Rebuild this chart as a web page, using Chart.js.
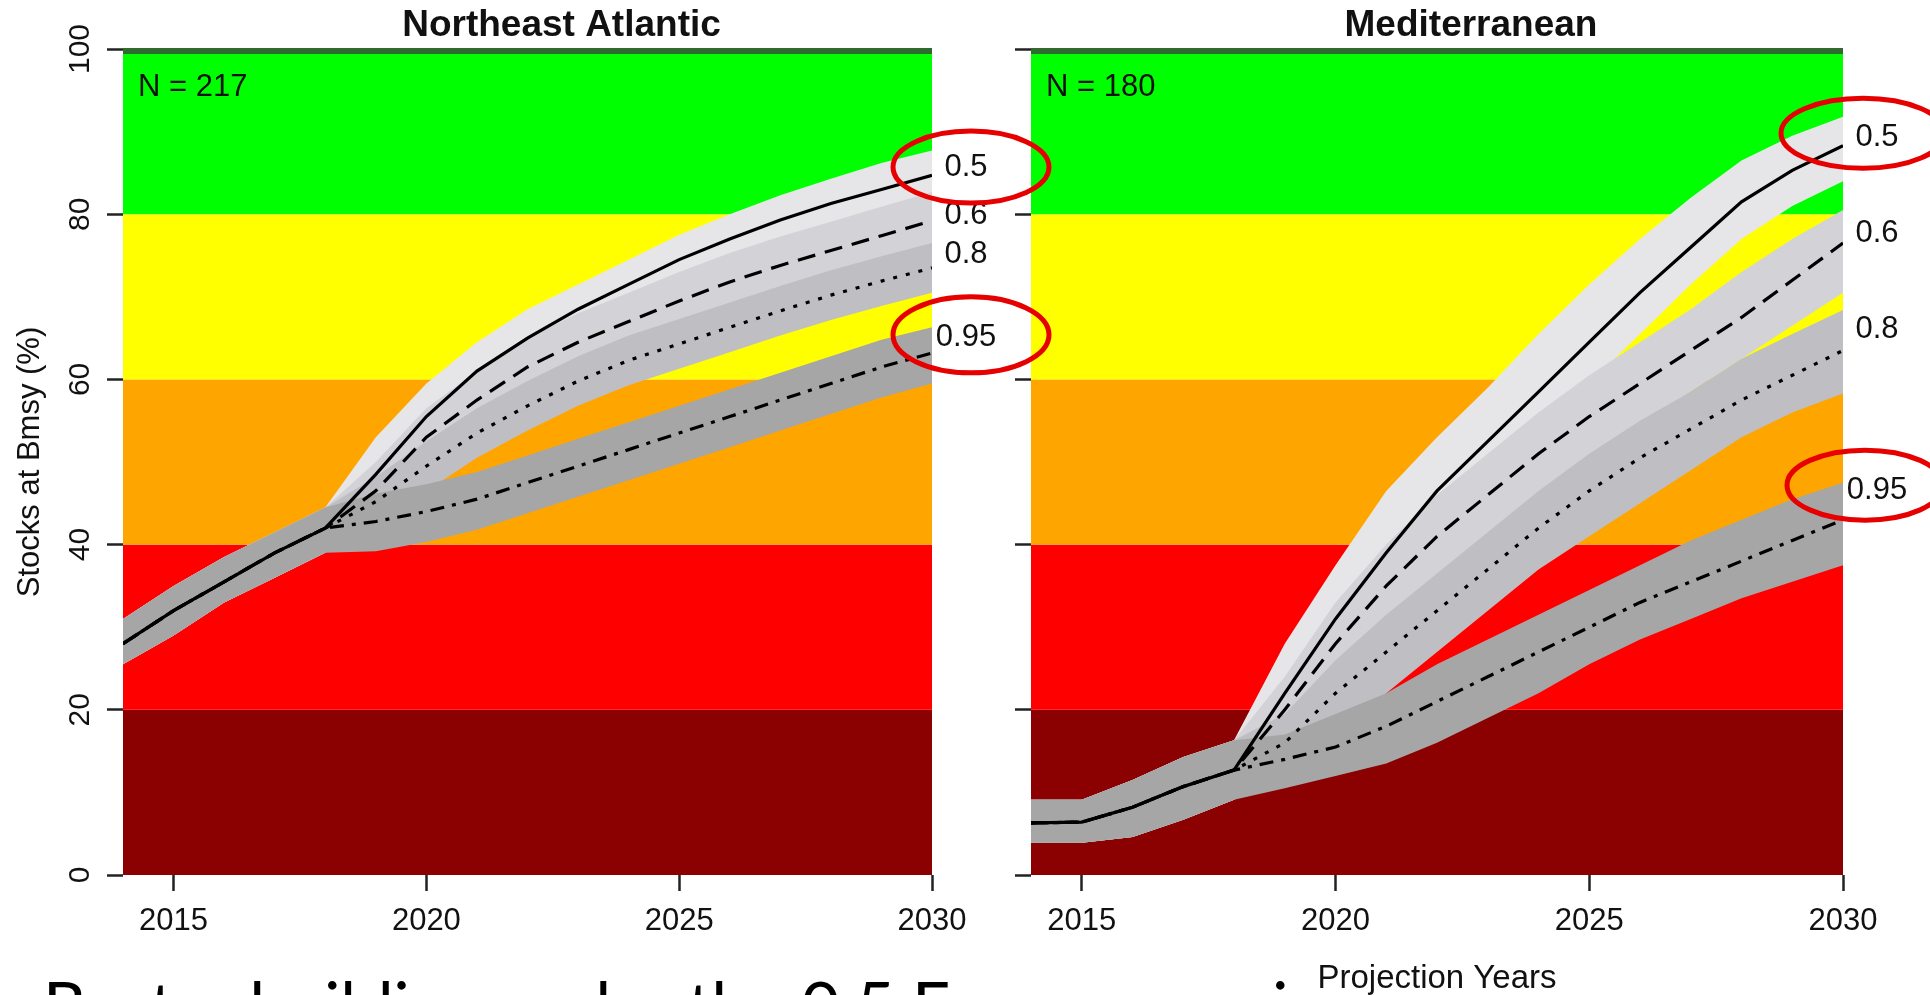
<!DOCTYPE html>
<html>
<head>
<meta charset="utf-8">
<title>Stocks at Bmsy projections</title>
<script src="https://cdn.jsdelivr.net/npm/chart.js@4.4.1/dist/chart.umd.min.js"></script>
<style>
  html, body { margin: 0; padding: 0; background: #fff; overflow: hidden; }
  #wrap { position: relative; width: 1930px; height: 995px; }
  #wrap canvas { position: absolute; top: 0; }
  #medChart { left: 960px; z-index: 1; }
  #neaChart { left: 0; z-index: 2; }
  #caption { left: 0; z-index: 3; pointer-events: none; }
</style>
</head>
<body>
<div id="wrap">
  <canvas id="medChart" width="970" height="995" style="width:970px;height:995px"></canvas>
  <canvas id="neaChart" width="1060" height="995" style="width:1060px;height:995px"></canvas>
  <canvas id="caption" width="1930" height="995"></canvas>
</div>
<script>
// Projection years and axis ticks
const years = [2014, 2015, 2016, 2017, 2018, 2019, 2020, 2021, 2022,
               2023, 2024, 2025, 2026, 2027, 2028, 2029, 2030];
const xTickValues = [2015, 2020, 2025, 2030];
const yTickValues = [0, 20, 40, 60, 80, 100];
const scenarios = ['0.5', '0.6', '0.8', '0.95'];

// Status zones behind the curves (% of stocks at Bmsy)
const zoneLimits = [0, 20, 40, 60, 80, 100];

// Northeast Atlantic, median projection per scenario
const neaStocks = 217;
const neaMid05  = [28, 32, 35.5, 39, 42, 48.5, 55.5, 61, 65, 68.5, 71.5, 74.5, 77, 79.3, 81.3, 83, 84.7];
const neaMid06  = [28, 32, 35.5, 39, 42, 46.5, 53, 57.5, 61.5, 64.5, 67, 69.5, 71.8, 73.8, 75.6, 77.4, 79.2];
const neaMid08  = [28, 32, 35.5, 39, 42, 45.2, 49.5, 53.5, 56.8, 59.8, 62.3, 64.3, 66.3, 68.3, 70.2, 71.9, 73.5];
const neaMid095 = [28, 32, 35.5, 39, 42, 42.8, 44, 45.5, 47.5, 49.5, 51.5, 53.5, 55.5, 57.5, 59.5, 61.5, 63.2];
// Northeast Atlantic, uncertainty bands
const neaHi05  = [31, 35, 38.5, 41.5, 44.5, 53, 59.5, 64.5, 68.5, 71.5, 74.5, 77.5, 80, 82.3, 84.3, 86.2, 87.7];
const neaLo05  = [25.5, 29, 33, 36, 39, 45, 52, 57.5, 61.5, 65, 68, 71, 73.5, 75.8, 77.8, 79.5, 81.2];
const neaHi06  = [31, 35, 38.5, 41.5, 44.5, 50, 56.5, 61, 65, 68, 70.5, 73, 75.3, 77.3, 79.1, 80.9, 82.7];
const neaLo06  = [25.5, 29, 33, 36, 39, 43, 49.5, 54, 58, 61, 63.5, 66, 68.3, 70.3, 72.1, 73.9, 75.7];
const neaHi08  = [31, 35, 38.5, 41.5, 44.5, 48.2, 52.5, 56.5, 59.8, 62.8, 65.3, 67.3, 69.3, 71.3, 73.2, 74.9, 76.5];
const neaLo08  = [25.5, 29, 33, 36, 39, 42.2, 46.5, 50.5, 53.8, 56.8, 59.3, 61.3, 63.3, 65.3, 67.2, 68.9, 70.5];
const neaHi095 = [31, 35, 38.5, 41.5, 44.5, 46.2, 47.3, 48.8, 50.8, 52.8, 54.8, 56.8, 58.8, 60.8, 62.8, 64.8, 66.3];
const neaLo095 = [25.5, 29, 33, 36, 39, 39.2, 40.3, 41.8, 43.8, 45.8, 47.8, 49.8, 51.8, 53.8, 55.8, 57.8, 59.5];

// Mediterranean, median projection per scenario
const medStocks = 180;
const medMid05  = [6.3, 6.4, 8.2, 10.7, 12.7, 22, 31, 39, 46.5, 52.5, 58.5, 64.5, 70.5, 76, 81.5, 85.3, 88.3];
const medMid06  = [6.3, 6.4, 8.2, 10.7, 12.7, 20, 28, 35, 41, 46, 51, 55.5, 59.5, 63.5, 67.5, 72, 76.5];
const medMid08  = [6.3, 6.4, 8.2, 10.7, 12.7, 16, 22, 27, 32, 37, 42, 46.5, 50.5, 54, 57.5, 60.5, 63.5];
const medMid095 = [6.3, 6.4, 8.2, 10.7, 12.7, 14, 15.5, 18, 21, 24, 27, 30, 33, 35.5, 38, 40.5, 43];
// Mediterranean, uncertainty bands
const medHi05  = [9.1, 9.1, 11.5, 14.3, 16.3, 28, 37.5, 46.5, 53, 59, 65.5, 71.5, 77, 82, 86.5, 89.5, 91.8];
const medLo05  = [3.9, 3.9, 4.6, 6.7, 9.1, 17, 26, 33, 40, 47, 53.5, 59.5, 65.5, 71.5, 77, 81, 84];
const medHi06  = [9.1, 9.1, 11.5, 14.3, 16.3, 24, 33, 40, 46, 51, 56, 60.5, 64.5, 68.5, 73, 77, 80.5];
const medLo06  = [3.9, 3.9, 4.6, 6.7, 9.1, 16, 23, 30, 36, 41, 46, 50.5, 54.5, 58.5, 62.5, 66.5, 70.5];
const medHi08  = [9.1, 9.1, 11.5, 14.3, 16.3, 19.5, 26, 31.5, 36.5, 41.5, 46.5, 51, 55, 58.5, 62.5, 65.5, 68.4];
const medLo08  = [3.9, 3.9, 4.6, 6.7, 9.1, 12.5, 17, 22, 27, 32, 37, 41, 45, 49, 53, 56, 58.3];
const medHi095 = [9.1, 9.1, 11.5, 14.3, 16.3, 17, 19.5, 22, 25.5, 28.5, 31.5, 34.5, 37.5, 40.5, 43, 45.5, 47.5];
const medLo095 = [3.9, 3.9, 4.6, 6.7, 9.1, 10.5, 12, 13.5, 16, 19, 22, 25.5, 28.5, 31, 33.5, 35.5, 37.5];

const captionText = 'Best rebuilding under the 0.5 Fmsy scenario';

// Styles
const FONT = "'Liberation Sans', Arial, sans-serif";
const zoneColors = ['#8b0000', '#ff0000', '#ffa500', '#ffff00', '#00ff00'];
const bandColors = ['#e6e6e9', '#d3d3d7', '#bfbfc3', '#a6a6a6'];
const lineDashes = [[], [18, 10], [4, 9], [14, 8, 4, 8]];

Chart.defaults.font.family = FONT;

// Coloured status zones plus the dark top edge
const zonePlugin = {
    id: 'zones',
    beforeDatasetsDraw(chart) {
        const {ctx, chartArea: a, scales: {y}} = chart;
        ctx.save();
        for (let i = 0; i < zoneColors.length; i++) {
            const top = y.getPixelForValue(zoneLimits[i + 1]);
            const bottom = y.getPixelForValue(zoneLimits[i]);
            ctx.fillStyle = zoneColors[i];
            ctx.fillRect(a.left, top, a.right - a.left, bottom - top);
        }
        ctx.fillStyle = '#2f6b2f';
        ctx.fillRect(a.left, y.getPixelForValue(100) - 1, a.right - a.left, 6);
        ctx.restore();
    }
};

// Panel title, stock count, scenario labels and red rings
function makeTextPlugin(p) {
    return {
        id: 'panelText',
        afterDraw(chart) {
            const {ctx, chartArea: a, scales: {y}} = chart;
            ctx.save();
            ctx.fillStyle = '#111';
            ctx.textBaseline = 'middle';
            ctx.textAlign = 'center';
            ctx.font = 'bold 37px ' + FONT;
            ctx.fillText(p.title, (a.left + a.right) / 2 + 34, 26);

            ctx.font = '31px ' + FONT;
            ctx.textAlign = 'left';
            ctx.fillText('N = ' + p.stocks, a.left + 15, y.getPixelForValue(95.3));

            ctx.textAlign = 'center';
            scenarios.forEach((s, i) => {
                ctx.fillText(s, a.right + 34, y.getPixelForValue(p.labelY[i]));
            });

            ctx.strokeStyle = '#e60000';
            ctx.lineWidth = 5;
            p.rings.forEach(r => {
                ctx.beginPath();
                ctx.ellipse(a.right + r.dx, y.getPixelForValue(r.y), r.rx, r.ry, 0, 0, Math.PI * 2);
                ctx.stroke();
            });
            ctx.restore();
        }
    };
}

function toPoints(values) {
    return values.map((v, i) => ({x: years[i], y: v}));
}

function makeChart(canvasId, p) {
    const datasets = [];
    const bandOrder = [5, 4, 3, 2];
    p.bands.forEach((b, i) => {
        const upperIndex = datasets.length;
        datasets.push({
            label: scenarios[i] + ' upper', data: toPoints(b[0]),
            fill: upperIndex + 1, backgroundColor: bandColors[i],
            borderColor: 'rgba(0,0,0,0)', borderWidth: 0, pointRadius: 0, order: bandOrder[i]
        });
        datasets.push({
            label: scenarios[i] + ' lower', data: toPoints(b[1]),
            fill: false, borderColor: 'rgba(0,0,0,0)', borderWidth: 0, pointRadius: 0, order: bandOrder[i]
        });
    });
    p.medians.forEach((m, i) => {
        datasets.push({
            label: scenarios[i], data: toPoints(m), fill: false,
            borderColor: '#000', borderWidth: 3.2, borderDash: lineDashes[i],
            pointRadius: 0, order: 1
        });
    });

    const gridOpts = {
        display: true, drawOnChartArea: false, drawTicks: true,
        tickLength: 16, tickColor: '#222', tickWidth: 2.5
    };

    return new Chart(document.getElementById(canvasId), {
        type: 'line',
        data: {datasets},
        plugins: [zonePlugin, makeTextPlugin(p)],
        options: {
            responsive: false,
            animation: false,
            events: [],
            layout: {padding: {top: 49, right: p.padRight, left: 0, bottom: 0}},
            plugins: {legend: {display: false}, tooltip: {enabled: false}, title: {display: false}},
            elements: {line: {tension: 0}},
            scales: {
                x: {
                    type: 'linear', min: 2014, max: 2030,
                    afterBuildTicks: s => { s.ticks = xTickValues.map(v => ({value: v})); },
                    afterFit: s => { s.height = 120; },
                    grid: gridOpts,
                    border: {display: false},
                    ticks: {
                        font: {size: 31}, color: '#111', padding: 12,
                        autoSkip: false, maxRotation: 0, callback: v => String(v)
                    },
                    title: {
                        display: p.showXTitle, text: 'Projection Years',
                        font: {size: 33, lineHeight: 1}, color: '#111', padding: 0
                    }
                },
                y: {
                    type: 'linear', min: 0, max: 100,
                    afterBuildTicks: s => { s.ticks = yTickValues.map(v => ({value: v})); },
                    afterFit: s => { s.width = p.yAxisWidth; },
                    grid: gridOpts,
                    border: {display: false},
                    ticks: {
                        display: p.showYLabels, minRotation: 90, maxRotation: 90,
                        crossAlign: 'center', padding: 1, autoSkip: false,
                        font: {size: 30}, color: '#111'
                    },
                    title: {
                        display: p.showYLabels, text: 'Stocks at Bmsy (%)',
                        font: {size: 31}, color: '#111', padding: {top: 12}
                    }
                }
            }
        }
    });
}

makeChart('neaChart', {
    title: 'Northeast Atlantic', stocks: neaStocks,
    medians: [neaMid05, neaMid06, neaMid08, neaMid095],
    bands: [[neaHi05, neaLo05], [neaHi06, neaLo06], [neaHi08, neaLo08], [neaHi095, neaLo095]],
    labelY: [85.7, 79.9, 75.1, 65.1],
    rings: [{dx: 39, y: 85.7, rx: 78, ry: 36}, {dx: 39, y: 65.4, rx: 78, ry: 38}],
    yAxisWidth: 123, padRight: 128, showYLabels: true, showXTitle: false
});

makeChart('medChart', {
    title: 'Mediterranean', stocks: medStocks,
    medians: [medMid05, medMid06, medMid08, medMid095],
    bands: [[medHi05, medLo05], [medHi06, medLo06], [medHi08, medLo08], [medHi095, medLo095]],
    labelY: [89.3, 77.7, 66, 46.6],
    rings: [{dx: 20, y: 89.8, rx: 82, ry: 35}, {dx: 22, y: 47.2, rx: 78, ry: 35}],
    yAxisWidth: 71, padRight: 87, showYLabels: false, showXTitle: true
});

// Slide caption cut off by the bottom edge
function drawCaption() {
    const ctx = document.getElementById('caption').getContext('2d');
    const fam = "Lato, 'Open Sans', sans-serif";
    ctx.font = '60px ' + fam;
    const prefix = captionText.slice(0, captionText.lastIndexOf('i'));
    const w = ctx.measureText(prefix).width + ctx.measureText('i').width / 2;
    const size = 60 * (1280 - 43) / w;
    ctx.font = size.toFixed(1) + 'px ' + fam;
    const capTop = ctx.measureText('B').actualBoundingBoxAscent;
    ctx.fillStyle = '#000';
    ctx.fillText(captionText, 43, 982 + capTop);
}
drawCaption();
</script>
</body>
</html>
